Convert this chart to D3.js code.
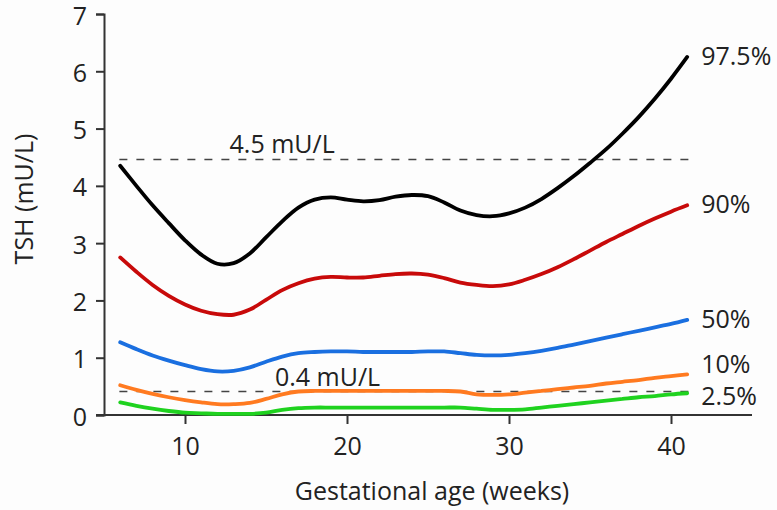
<!DOCTYPE html>
<html>
<head>
<meta charset="utf-8">
<script src="https://cdn.jsdelivr.net/npm/d3@7"></script>
<style>
  html, body { margin: 0; padding: 0; background: #fdfdfd; }
  svg { display: block; }
  text { font-family: "Open Sans", sans-serif; fill: #222; }
</style>
</head>
<body>
<svg id="chart" width="777" height="510"></svg>
<script>
// ---- Data ----
const weeks = [6,7,8,9,10,11,12,13,14,15,16,17,18,19,20,21,22,23,24,25,26,27,28,29,30,31,32,33,34,35,36,37,38,39,40,41];
const p975 = [4.35,4.0,3.66,3.35,3.05,2.8,2.64,2.65,2.82,3.1,3.38,3.62,3.76,3.8,3.76,3.73,3.75,3.81,3.84,3.82,3.71,3.57,3.49,3.47,3.52,3.62,3.77,3.96,4.17,4.4,4.64,4.91,5.2,5.52,5.87,6.25];
const p90  = [2.75,2.5,2.27,2.08,1.93,1.82,1.76,1.75,1.84,2.01,2.18,2.3,2.38,2.41,2.4,2.4,2.43,2.46,2.47,2.45,2.39,2.31,2.27,2.25,2.28,2.36,2.46,2.58,2.72,2.87,3.02,3.16,3.3,3.43,3.55,3.66];
const p50  = [1.27,1.15,1.04,0.95,0.87,0.8,0.76,0.77,0.83,0.93,1.02,1.08,1.1,1.11,1.11,1.1,1.1,1.1,1.1,1.11,1.11,1.08,1.05,1.04,1.05,1.08,1.12,1.17,1.23,1.29,1.35,1.41,1.47,1.53,1.59,1.66];
const p10  = [0.52,0.44,0.37,0.31,0.26,0.22,0.19,0.19,0.21,0.28,0.36,0.41,0.42,0.42,0.42,0.42,0.42,0.42,0.42,0.42,0.42,0.41,0.36,0.35,0.36,0.39,0.42,0.45,0.48,0.51,0.55,0.58,0.61,0.65,0.68,0.71];
const p25  = [0.22,0.16,0.11,0.07,0.04,0.03,0.02,0.02,0.02,0.04,0.09,0.12,0.13,0.13,0.13,0.13,0.13,0.13,0.13,0.13,0.13,0.13,0.11,0.09,0.09,0.1,0.13,0.16,0.19,0.22,0.25,0.28,0.31,0.33,0.36,0.38];
const seriesNames = ["97.5%","90%","50%","10%","2.5%"];
const seriesColors = ["#000000","#c80a0a","#1a6fe0","#ff7a20","#1fd21f"];
const seriesValues = [p975, p90, p50, p10, p25];
const xTicks = [10,20,30,40];
const yTicks = [0,1,2,3,4,5,6,7];
const refValues = [4.46, 0.41];
const refLabels = ["4.5 mU/L", "0.4 mU/L"];
const refLabelX = [16.0, 18.8];
const xLabel = "Gestational age (weeks)";
const yLabel = "TSH (mU/L)";

// ---- Layout ----
const FS = "25px";
const svg = d3.select("#chart");
const x = d3.scaleLinear().domain([5, 45]).range([104, 752]);
const y = d3.scaleLinear().domain([0, 7]).range([415, 14]);
const axisColor = "#333";

// Y axis
const yAxis = svg.append("g").attr("transform", "translate(104,0)")
  .call(d3.axisLeft(y).tickValues(yTicks).tickSize(8).tickPadding(9).tickFormat(d3.format("d")));
// X axis
const xAxis = svg.append("g").attr("transform", "translate(0,415)")
  .call(d3.axisBottom(x).tickValues(xTicks).tickSize(9).tickPadding(13).tickFormat(d3.format("d")));
[yAxis, xAxis].forEach(g => {
  g.select(".domain").attr("stroke", axisColor).attr("stroke-width", 2);
  g.selectAll(".tick line").attr("stroke", axisColor).attr("stroke-width", 2);
  g.selectAll(".tick text").attr("fill", "#222").style("font-size", FS).style("font-family", '"Open Sans", sans-serif');
});
yAxis.selectAll(".tick text").attr("dy", "0.4em");
xAxis.select(".domain").attr("d", `M${x(5)-8},0H${x(45)}`);

// Reference dashed lines
const refDy = [-7, -6];
refValues.forEach((v, i) => {
  svg.append("line")
    .attr("x1", x(5.95)).attr("x2", x(41.3))
    .attr("y1", y(v)).attr("y2", y(v))
    .attr("stroke", "#444").attr("stroke-width", 1.6)
    .attr("stroke-dasharray", "8,9");
  svg.append("text")
    .attr("x", x(refLabelX[i])).attr("y", y(v) + refDy[i])
    .attr("text-anchor", "middle")
    .style("font-size", FS)
    .text(refLabels[i]);
});

// Curves
const line = d3.line().x((d, i) => x(weeks[i])).y(d => y(d)).curve(d3.curveCatmullRom.alpha(0.5));
seriesValues.forEach((vals, i) => {
  svg.append("path")
    .datum(vals)
    .attr("d", line)
    .attr("fill", "none")
    .attr("stroke", seriesColors[i])
    .attr("stroke-width", 3.8)
    .attr("stroke-linecap", "round");
});

// End labels
const labelDy = [8, 8, 8, -1, 12];
seriesValues.forEach((vals, i) => {
  svg.append("text")
    .attr("x", x(weeks[weeks.length - 1]) + 14)
    .attr("y", y(vals[vals.length - 1]) + labelDy[i])
    .style("font-size", FS)
    .text(seriesNames[i]);
});

// Axis titles
svg.append("text")
  .attr("x", 432).attr("y", 500)
  .attr("text-anchor", "middle")
  .style("font-size", FS)
  .text(xLabel);
svg.append("text")
  .attr("transform", "translate(33,199) rotate(-90)")
  .attr("text-anchor", "middle")
  .style("font-size", FS)
  .text(yLabel);
</script>
</body>
</html>
